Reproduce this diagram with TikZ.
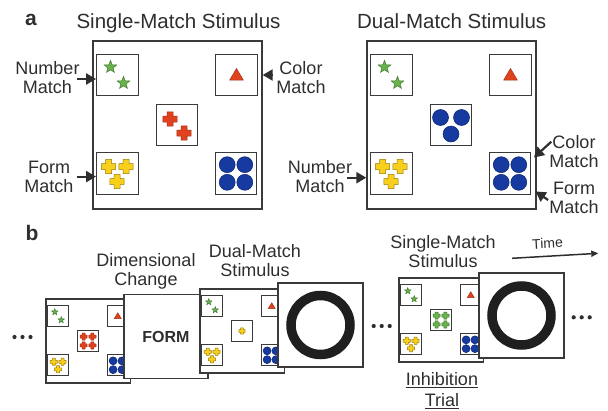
\documentclass[tikz,border=0pt]{standalone}
\usepackage{fontspec}
\setmainfont{Liberation Sans}
\usetikzlibrary{arrows.meta}

\definecolor{ink}{HTML}{2E2E2E}
\definecolor{edge}{HTML}{3A3A3A}
\definecolor{stargreen}{HTML}{6AB24C}
\definecolor{stargreenD}{HTML}{3F7A2E}
\definecolor{tred}{HTML}{E0421E}
\definecolor{tredD}{HTML}{A3301A}
\definecolor{cyellow}{HTML}{F8CF1A}
\definecolor{cyellowD}{HTML}{9A7A05}
\definecolor{dblue}{HTML}{163AA0}
\definecolor{dblueD}{HTML}{0C2470}

\tikzset{
  ts/.style={transform shape},
  bigbox/.style={draw=edge, line width=1.3pt, fill=white, minimum width=169pt,
    minimum height=168pt, inner sep=0pt},
  cell/.style={draw=edge, line width=1.4pt, minimum size=41.5pt, inner sep=0pt},
  lbl/.style={font=\fontsize{18}{19}\selectfont, text=ink, align=center, inner sep=0pt},
  ttl/.style={font=\fontsize{20.5}{22}\selectfont, text=ink, inner sep=0pt, anchor=base},
  letter/.style={font=\fontsize{21}{22}\selectfont\bfseries, text=ink, inner sep=0pt, anchor=base},
  pointer/.style={draw=ink, line width=2.2pt, -{Triangle[length=10pt,width=11pt]}},
  timearrow/.style={draw=ink, line width=1.5pt, -{Triangle[length=7pt,width=6pt]}},
  ringline/.style={draw=black!88, line width=9.5pt},
  greenmark/.style={fill=stargreen, draw=stargreenD, line width=0.5pt},
  redmark/.style={fill=tred, draw=tredD, line width=0.5pt},
  yellowmark/.style={fill=cyellow, draw=cyellowD, line width=0.5pt},
  bluemark/.style={fill=dblue, draw=dblueD, line width=0.5pt},
  % single symbols
  pics/starmark/.style={code={
    \path[greenmark] plot[samples at={0,...,9}, variable=\k]
      ({-90+36*\k}:{4.7+1.9*cos(180*\k)}) -- cycle;}},
  pics/trimark/.style={code={
    \path[redmark] (-6.8,5) -- (6.8,5) -- (0,-6.5) -- cycle;}},
  pics/plusmark/.style={code={
    \path[#1, rounded corners=0.3pt] (-3,-7.2) -- (3,-7.2) -- (3,-3) -- (7.2,-3)
      -- (7.2,3) -- (3,3) -- (3,7.2) -- (-3,7.2) -- (-3,3) -- (-7.2,3)
      -- (-7.2,-3) -- (-3,-3) -- cycle;}},
  pics/dotmark/.style={code={\path[bluemark] (0,0) circle[radius=8];}},
  % card contents
  pics/twostars/.style={code={\pic[ts] at (-7,-8) {starmark}; \pic[ts] at (6,8) {starmark};}},
  pics/twored/.style={code={\pic[ts] at (-7,-6) {plusmark=redmark};
    \pic[ts] at (7,8) {plusmark=redmark};}},
  pics/threeyellow/.style={code={\pic[ts] at (-9,-7) {plusmark=yellowmark};
    \pic[ts] at (8.5,-7) {plusmark=yellowmark}; \pic[ts] at (-0.5,8) {plusmark=yellowmark};}},
  pics/fourblue/.style={code={\foreach \i in {-8.8,8.8}{\foreach \j in {-8.8,8.8}{
    \pic[ts] at (\i,\j) {dotmark};}}}},
  pics/threeblue/.style={code={\pic[ts] at (-10.5,-7.5) {dotmark};
    \pic[ts] at (10.5,-7.5) {dotmark}; \pic[ts] at (0,9) {dotmark};}},
  pics/fourred/.style={code={\foreach \i in {-8.8,8.8}{\foreach \j in {-8.8,8.8}{
    \pic[ts] at (\i,\j) {plusmark=redmark};}}}},
  pics/fourgreen/.style={code={\foreach \i in {-8.8,8.8}{\foreach \j in {-8.8,8.8}{
    \pic[ts] at (\i,\j) {plusmark=greenmark};}}}},
  pics/oneyellow/.style={code={\pic[ts, scale=0.9] at (0,0) {plusmark=yellowmark};}},
  pics/ellipsis/.style={code={\foreach \i in {-8,0,8}{\fill[ink] (\i,0) circle[radius=2.1];}}},
}

% A stimulus card: #1 name, #2 top-left corner, #3 scale, #4 centre cell content
\newcommand\stimframe[4]{%
  \begin{scope}[shift={#2}, scale=#3]
    \node[bigbox, ts] (#1) at (84.5,84) {};
    \node[cell, ts] (#1-tl) at (24.5,34) {};
    \node[cell, ts] (#1-tr) at (143.5,34) {};
    \node[cell, ts] (#1-c) at (84,84) {};
    \node[cell, ts] (#1-bl) at (24.5,132.5) {};
    \node[cell, ts] (#1-br) at (143,132.5) {};
    \pic[ts] at (24.5,34) {twostars};
    \pic[ts] at (143.5,34) {trimark};
    \pic[ts] at (84,84) {#4};
    \pic[ts] at (24.5,132.5) {threeyellow};
    \pic[ts] at (143,132.5) {fourblue};
  \end{scope}}

\begin{document}
\begin{tikzpicture}[x=1pt, y=-1pt]
\useasboundingbox (0,0) rectangle (608,410);

% ---------- panel a ----------
\node[letter] (pa) at (31,25) {a};
\node[ttl] (tsa) at (178.5,28.3) {Single-Match Stimulus};
\node[ttl] (tda) at (451.7,28.3) {Dual-Match Stimulus};

\stimframe{sa}{(93,41)}{1}{twored}
\stimframe{da}{(367,41)}{1}{threeblue}

\node[lbl] (nm1) at (47.5,77.3) {Number\\Match};
\node[lbl] (fm1) at (49,176.6) {Form\\Match};
\node[lbl] (cm1) at (301,77.3) {Color\\Match};
\node[lbl] (nm2) at (320,176.6) {Number\\Match};
\node[lbl] (cm2) at (574,151.6) {Color\\Match};
\node[lbl] (fm2) at (574,198.3) {Form\\Match};

\coordinate (nm1s) at ([xshift=-3pt, yshift=-1.7pt]nm1.east);
\coordinate (fm1s) at ([xshift=3pt]fm1.east);
\coordinate (cm1s) at ([xshift=-3.3pt, yshift=2.3pt]cm1.west);
\coordinate (nm2s) at ([xshift=-5pt, yshift=-1.1pt]nm2.east);
\coordinate (cm2s) at ([xshift=2pt, yshift=9.9pt]cm2.west);
\coordinate (cm2e) at ([xshift=2.5pt, yshift=-5.5pt]da-br.north east);
\coordinate (fm2s) at ([xshift=-1.2pt, yshift=-1.7pt]fm2.west);
\coordinate (fm2e) at ([xshift=4.2pt, yshift=3.5pt]da-br.south east);

\draw[pointer] (nm1s) -- (nm1s -| sa-tl.west);
\draw[pointer] (fm1s) -- (fm1s -| sa-bl.west);
\draw[pointer] (cm1s) -- (cm1s -| sa.east);
\draw[pointer] (nm2s) -- (nm2s -| da.west);
\draw[pointer] (cm2s) -- (cm2e);
\draw[pointer] (fm2s) -- (fm2e);

% ---------- panel b ----------
\node[letter] (pb) at (32,240) {b};

\node[lbl] (dimlbl) at (146,271.3) {Dimensional\\Change};
\node[lbl] (duallbl) at (255,261) {Dual-Match\\Stimulus};
\node[lbl] (singlbl) at (443,251.8) {Single-Match\\Stimulus};
\node[lbl, font=\fontsize{18}{21.5}\selectfont] (inhlbl) at (442,390.5)
  {\underline{Inhibition}\\\underline{Trial}};

\node[font=\fontsize{14}{14}\selectfont, text=ink, rotate=3, inner sep=0pt] (timelbl)
  at (547.5,243.3) {Time};
\coordinate (tstart) at (512,258.3);
\coordinate (tend) at (598.3,253.3);
\draw[timearrow] (tstart) -- (tend);

\begin{scope}[cell/.append style={line width=1.1pt}]
  \pic at (22.5,337) {ellipsis};
  \stimframe{sb1}{(46,299)}{0.5}{fourred}
  \node[bigbox, minimum width=84pt, minimum height=84pt,
        font=\fontsize{16}{16}\selectfont\bfseries, text=ink] (formcard) at (166,336.5) {FORM};
  \stimframe{sb2}{(200,289)}{0.5}{oneyellow}
  \node[bigbox, minimum width=85pt, minimum height=84pt] (ring1) at (320.5,325) {};
  \draw[ringline] (ring1.center) circle[radius=29.5];
  \pic at (381.7,326) {ellipsis};
  \stimframe{sb3}{(399,278)}{0.5}{fourgreen}
  \node[bigbox, minimum width=85pt, minimum height=85pt] (ring2) at (521.5,315.5) {};
  \draw[ringline] (ring2.center) circle[radius=29.5];
  \pic at (581.7,317.3) {ellipsis};
\end{scope}
\end{tikzpicture}
\end{document}
